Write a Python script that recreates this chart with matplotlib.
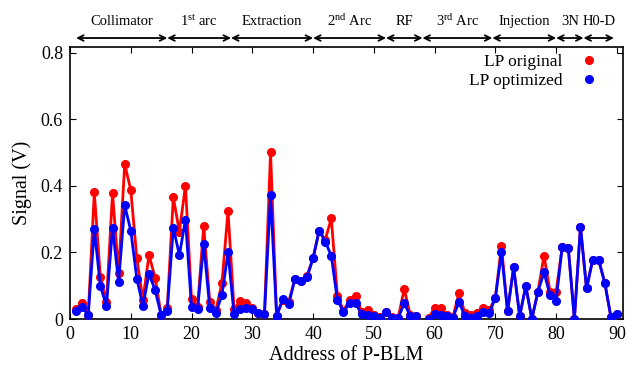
import numpy as np
import matplotlib
matplotlib.use("Agg")
import matplotlib.pyplot as plt

plt.rcParams['font.family'] = ['Liberation Serif', 'DejaVu Serif']
plt.rcParams['mathtext.fontset'] = 'custom'
plt.rcParams['mathtext.rm'] = 'Liberation Serif'
plt.rcParams['mathtext.it'] = 'Liberation Serif:italic'

address = list(range(1, 91))
lp_original = [0.029, 0.049, 0.012, 0.381, 0.125, 0.052, 0.378, 0.137, 0.466, 0.388,
               0.182, 0.057, 0.193, 0.124, 0.012, 0.032, 0.366, 0.263, 0.401, 0.059,
               0.037, 0.279, 0.052, 0.027, 0.107, 0.325, 0.029, 0.054, 0.047, 0.032,
               0.019, 0.015, 0.501, 0.010, 0.056, 0.052, 0.120, 0.115, 0.130, 0.183,
               0.266, 0.238, 0.303, 0.070, 0.025, 0.057, 0.070, 0.022, 0.027, 0.013,
               0.006, 0.022, 0.006, 0.004, 0.090, 0.012, 0.010, np.nan, 0.002, 0.034,
               0.034, 0.012, 0.006, 0.077, 0.018, 0.012, 0.017, 0.034, 0.027, 0.064,
               0.221, 0.023, 0.155, 0.009, 0.099, 0.001, 0.082, 0.190, 0.082, 0.082,
               0.218, 0.213, 0.000, 0.278, 0.092, 0.177, 0.177, 0.109, 0.007, 0.014]
lp_optimized = [0.024, 0.035, 0.012, 0.270, 0.099, 0.039, 0.275, 0.111, 0.342, 0.266,
                0.121, 0.040, 0.136, 0.087, 0.012, 0.025, 0.275, 0.192, 0.299, 0.035,
                0.030, 0.225, 0.033, 0.019, 0.072, 0.200, 0.014, 0.030, 0.034, 0.030,
                0.017, 0.015, 0.373, 0.010, 0.059, 0.045, 0.120, 0.114, 0.125, 0.183,
                0.266, 0.233, 0.190, 0.057, 0.022, 0.047, 0.047, 0.014, 0.012, 0.010,
                0.004, 0.022, 0.004, 0.003, 0.047, 0.009, 0.009, np.nan, 0.000, 0.014,
                0.011, 0.009, 0.004, 0.050, 0.010, 0.004, 0.010, 0.022, 0.017, 0.064,
                0.200, 0.023, 0.155, 0.009, 0.099, 0.000, 0.082, 0.140, 0.071, 0.055,
                0.218, 0.213, 0.000, 0.278, 0.092, 0.177, 0.177, 0.109, 0.007, 0.014]

sections = ['Collimator', '1$^{\\mathrm{st}}$ arc', 'Extraction', '2$^{\\mathrm{nd}}$ Arc', 'RF',
            '3$^{\\mathrm{rd}}$ Arc', 'Injection', '3N', 'H0-D']
boundaries = [1, 16, 26.5, 40, 52, 58, 69.5, 80, 84.5, 89.5]

fig = plt.figure(figsize=(6.27, 3.67), dpi=100)
ax = fig.add_axes([70/627, 1-319/367, (623-70)/627, (319-47)/367])

ax.plot(address, lp_original, color='#ff0000', lw=2.0, marker='o', ms=5.5, zorder=3)
ax.plot(address, lp_optimized, color='#0000ff', lw=2.0, marker='o', ms=5.5, zorder=4)

# legend (markers only, text left of marker)
h1, = ax.plot([], [], ls='none', marker='o', ms=5.5, color='#ff0000', label='LP original')
h2, = ax.plot([], [], ls='none', marker='o', ms=5.5, color='#0000ff', label='LP optimized')
ax.legend(handles=[h1, h2], loc='upper right', bbox_to_anchor=(1 - 17/553, 1.0),
          markerfirst=False, frameon=False,
          fontsize=12.5, handlelength=1.2, handletextpad=0.9, labelspacing=0.17,
          borderaxespad=0.1, borderpad=0.3)

ax.set_xlim(0, 91)
ax.set_ylim(0, 0.818)
ax.set_xticks(range(0, 91, 10))
ax.set_yticks([0, 0.2, 0.4, 0.6, 0.8])
ax.set_yticklabels(['0', '0.2', '0.4', '0.6', '0.8'])
ax.tick_params(direction='in', top=True, right=True, length=4, width=0.8,
               labelsize=13, pad=5)
for s in ax.spines.values():
    s.set_linewidth(1.2)

ax.set_xlabel('Address of P-BLM', fontsize=14.5, labelpad=2)
ax.set_ylabel('Signal (V)', fontsize=14.5, labelpad=6)

# section arrows and labels
trans = ax.get_xaxis_transform()
for i, name in enumerate(sections):
    x0, x1 = boundaries[i], boundaries[i + 1]
    ax.annotate('', xy=(x1, 1.033), xytext=(x0, 1.033), xycoords=trans, textcoords=trans,
                arrowprops=dict(arrowstyle='<->', color='black', lw=1.3,
                                shrinkA=0, shrinkB=0, mutation_scale=10),
                annotation_clip=False)
    ax.text((x0 + x1) / 2, 1.095, name, transform=trans, ha='center', va='center',
            fontsize=10.5)

fig.savefig('out.png', dpi=100)
